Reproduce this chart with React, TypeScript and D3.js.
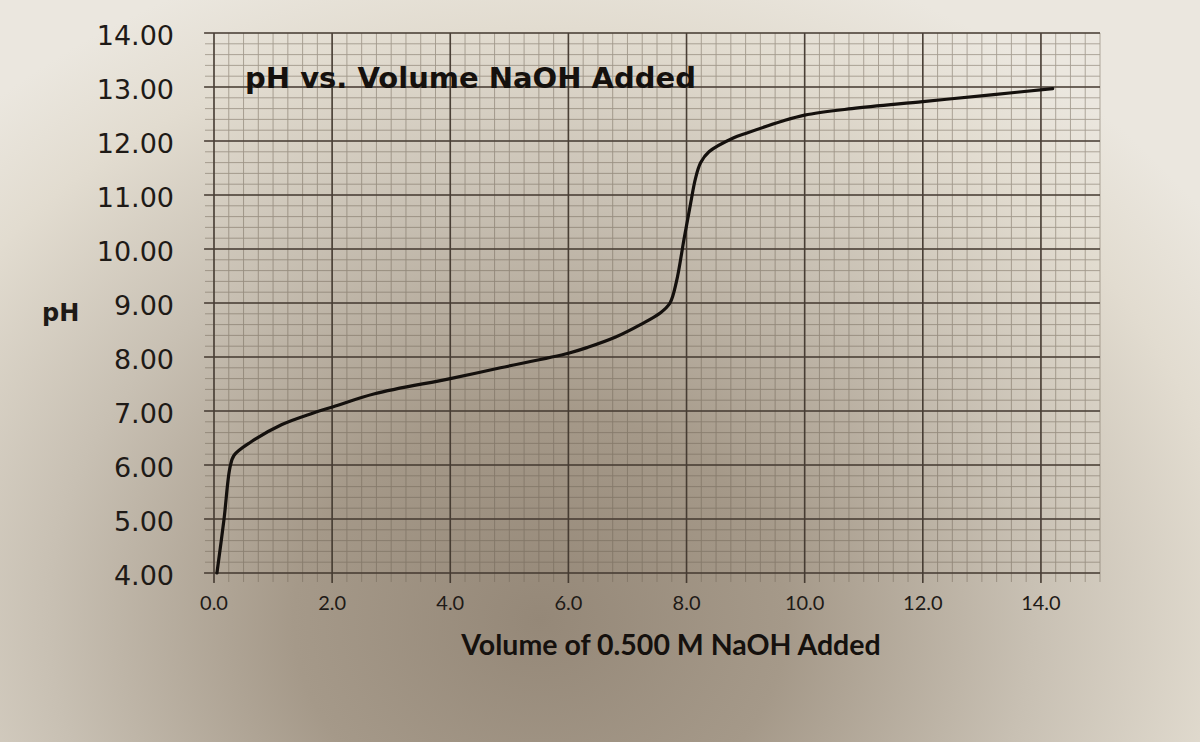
import React from 'react';
import * as d3 from 'd3';

const volumes = [0.05, 0.17, 0.27, 0.34, 0.63, 1.15, 1.67, 2.02, 2.72, 4.0, 4.85, 6.0, 6.33, 6.8, 7.22, 7.56, 7.72, 7.83, 7.96, 8.07, 8.15, 8.24, 8.38, 8.8, 9.0, 9.6, 10.0, 10.8, 12.0, 13.2, 14.2];
const phValues = [4.0, 5.0, 5.95, 6.18, 6.43, 6.75, 6.96, 7.08, 7.32, 7.6, 7.8, 8.07, 8.18, 8.37, 8.6, 8.82, 9.0, 9.4, 10.2, 10.85, 11.3, 11.6, 11.8, 12.06, 12.14, 12.36, 12.48, 12.6, 12.73, 12.86, 12.97];
const xTicks = [0, 2, 4, 6, 8, 10, 12, 14];
const yTicks = [4, 5, 6, 7, 8, 9, 10, 11, 12, 13, 14];
const xDomain = [0, 15];
const yDomain = [4, 14];
const xMinorStep = 0.25;
const yMinorStep = 0.2;
const titleText = 'pH vs. Volume NaOH Added';
const xTitleText = 'Volume of 0.500 M NaOH Added';
const yTitleText = 'pH';

const W = 1200;
const H = 742;
const plot = { left: 214, right: 1100, top: 33, bottom: 573 };

export default function App() {
  const x = d3.scaleLinear().domain(xDomain).range([plot.left, plot.right]);
  const y = d3.scaleLinear().domain(yDomain).range([plot.bottom, plot.top]);

  const xMinor = d3.range(xDomain[0], xDomain[1] + 1e-9, xMinorStep);
  const yMinor = d3.range(yDomain[0], yDomain[1] + 1e-9, yMinorStep);

  const data = volumes.map((v, i) => [v, phValues[i]] as [number, number]);
  const line = d3
    .line<[number, number]>()
    .x((d) => x(d[0]))
    .y((d) => y(d[1]))
    .curve(d3.curveCatmullRom.alpha(0.5));

  const majorColor = '#3f352c';
  const minorColor = '#6f6456';

  return (
    <svg
      width={W}
      height={H}
      style={{ position: 'absolute', left: 0, top: 0, display: 'block' }}
    >
      <defs>
        <radialGradient id="paper" gradientUnits="userSpaceOnUse" cx={540} cy={620} r={820} gradientTransform="translate(540 620) scale(1 0.85) translate(-540 -620)">
          <stop offset="0" stopColor="#958878" />
          <stop offset="0.3" stopColor="#a59989" />
          <stop offset="0.6" stopColor="#c8c0b3" />
          <stop offset="0.85" stopColor="#e2dcd0" />
          <stop offset="1" stopColor="#ebe7df" />
        </radialGradient>
      </defs>
      <rect x={0} y={0} width={W} height={H} fill="url(#paper)" />

      {/* minor grid */}
      <g stroke={minorColor} strokeWidth={0.9} opacity={0.55}>
        {xMinor.map((v, i) => (
          <line key={'xm' + i} x1={x(v)} x2={x(v)} y1={plot.top} y2={plot.bottom + 9} />
        ))}
        {yMinor.map((v, i) => (
          <line key={'ym' + i} x1={plot.left - 9} x2={plot.right} y1={y(v)} y2={y(v)} />
        ))}
      </g>

      {/* major grid */}
      <g stroke={majorColor} strokeWidth={1.6} opacity={0.9}>
        {xTicks.map((v) => (
          <line key={'xM' + v} x1={x(v)} x2={x(v)} y1={plot.top} y2={plot.bottom + 10} />
        ))}
        {yTicks.map((v) => (
          <line key={'yM' + v} x1={plot.left - 10} x2={plot.right} y1={y(v)} y2={y(v)} />
        ))}
      </g>

      {/* curve */}
      <path d={line(data) || ''} fill="none" stroke="#14100d" strokeWidth={3.2} strokeLinecap="round" strokeLinejoin="round" />

      {/* y tick labels */}
      <g fontFamily="'DejaVu Sans', sans-serif" fontSize={27} fill="#1e1a17" textAnchor="end">
        {yTicks.map((v) => (
          <text key={'yl' + v} x={174} y={y(v) + 4} dominantBaseline="middle">
            {v.toFixed(2)}
          </text>
        ))}
      </g>
      <text x={42} y={y(9) + 18} fontFamily="'DejaVu Sans', sans-serif" fontWeight="bold" fontSize={24} fill="#1e1a17">
        {yTitleText}
      </text>

      {/* x tick labels */}
      <g fontFamily="Lato, sans-serif" fontSize={20} fill="#1e1a17" textAnchor="middle">
        {xTicks.map((v) => (
          <text key={'xl' + v} x={x(v)} y={610}>
            {v.toFixed(1)}
          </text>
        ))}
      </g>

      {/* x axis title */}
      <text x={671} y={655} textAnchor="middle" fontFamily="Lato, sans-serif" fontWeight="bold" fontSize={28.5} fill="#15110e">
        {xTitleText}
      </text>

      {/* chart title */}
      <text x={245} y={88} fontFamily="'DejaVu Sans', sans-serif" fontWeight="bold" fontSize={29} fill="#15110e">
        {titleText}
      </text>
    </svg>
  );
}
